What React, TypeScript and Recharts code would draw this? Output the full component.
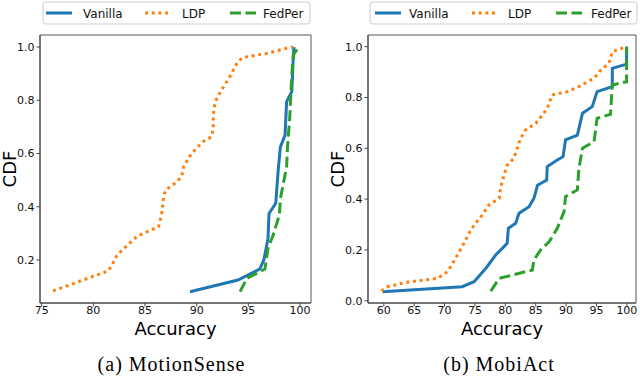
import { LineChart, Line, XAxis, YAxis, ReferenceArea } from "recharts";

// MotionSense CDF curves (accuracy, cumulative fraction)
const msVanillaAcc = [89.35, 94.0, 96.1, 96.5, 96.9, 97.0, 97.65, 97.9, 98.1, 98.55, 98.7, 99.2, 99.3, 99.4];
const msVanillaCdf = [0.081, 0.125, 0.166, 0.2, 0.281, 0.375, 0.413, 0.544, 0.625, 0.669, 0.795, 0.832, 0.92, 1.0];
const msLdpAcc = [76.1, 81.45, 81.8, 82.3, 84.2, 86.3, 86.6, 86.8, 87.0, 87.9, 88.55, 88.75, 89.5, 90.6, 91.45, 91.6, 91.6, 91.8, 92.4, 93.2, 93.9, 94.4, 96.8, 98.7, 99.35];
const msLdpCdf = [0.084, 0.159, 0.181, 0.219, 0.288, 0.325, 0.369, 0.438, 0.463, 0.488, 0.513, 0.553, 0.6, 0.644, 0.663, 0.694, 0.745, 0.795, 0.838, 0.888, 0.939, 0.96, 0.976, 0.995, 1.0];
const msFedAcc = [94.2, 94.85, 96.6, 96.9, 97.4, 98.0, 98.1, 98.7, 98.8, 99.0, 99.2, 99.35, 99.85];
const msFedCdf = [0.081, 0.131, 0.166, 0.244, 0.294, 0.369, 0.431, 0.55, 0.632, 0.732, 0.895, 0.97, 1.0];

// MobiAct CDF curves
const maVanillaAcc = [59.8, 72.9, 74.85, 76.8, 78.4, 79.5, 80.3, 80.5, 81.7, 82.25, 83.9, 84.7, 85.3, 86.8, 86.9, 88.55, 89.5, 89.9, 91.85, 92.7, 94.3, 95.1, 97.6, 97.6, 99.95, 99.95];
const maVanillaCdf = [0.035, 0.055, 0.075, 0.128, 0.18, 0.206, 0.226, 0.285, 0.305, 0.344, 0.37, 0.403, 0.455, 0.475, 0.528, 0.554, 0.567, 0.633, 0.652, 0.738, 0.764, 0.823, 0.843, 0.915, 0.931, 1.0];
const maLdpAcc = [59.6, 60.6, 63.6, 68.8, 70.5, 71.8, 73.2, 74.3, 75.1, 76.2, 77.3, 79.0, 79.2, 79.8, 80.3, 81.4, 82.5, 83.3, 85.0, 86.9, 87.7, 90.2, 92.1, 94.6, 95.7, 97.05, 97.6, 99.95];
const maLdpCdf = [0.038, 0.055, 0.072, 0.088, 0.114, 0.167, 0.226, 0.278, 0.305, 0.337, 0.377, 0.403, 0.443, 0.495, 0.534, 0.56, 0.639, 0.672, 0.698, 0.757, 0.81, 0.823, 0.843, 0.876, 0.908, 0.935, 0.98, 1.0];
const maFedAcc = [77.6, 79.0, 84.45, 84.7, 85.8, 87.2, 88.55, 89.65, 89.9, 91.85, 92.1, 92.7, 94.6, 95.1, 97.3, 97.6, 99.95, 99.95];
const maFedCdf = [0.038, 0.088, 0.121, 0.16, 0.2, 0.232, 0.285, 0.35, 0.41, 0.436, 0.521, 0.6, 0.626, 0.718, 0.734, 0.849, 0.862, 1.0];

const msXTicks = [75, 80, 85, 90, 95, 100];
const msYTicks = [0.2, 0.4, 0.6, 0.8, 1.0];
const maXTicks = [60, 65, 70, 75, 80, 85, 90, 95, 100];
const maYTicks = [0.0, 0.2, 0.4, 0.6, 0.8, 1.0];

const seriesNames = ["Vanilla", "LDP", "FedPer"];
const captions = ["(a) MotionSense", "(b) MobiAct"];

const zip = (xs: number[], ys: number[]) => xs.map((x, i) => ({ x, y: ys[i] }));

const BLUE = "#1f77b4";
const ORANGE = "#ff7f0e";
const GREEN = "#2ca02c";
const SANS = "DejaVu Sans";

const styles = [
  { stroke: BLUE, dash: undefined as string | undefined },
  { stroke: ORANGE, dash: "3 3.7" },
  { stroke: GREEN, dash: "11 4.5" },
];

type Panel = {
  left: number;
  yAxisWidth: number;
  marginRight: number;
  xDomain: [number, number];
  yDomain: [number, number];
  xTicks: number[];
  yTicks: number[];
  series: { x: number; y: number }[][];
};

function CdfPanel({ p }: { p: Panel }) {
  const tick = { fontSize: 11, fill: "#111", fontFamily: SANS };
  return (
    <div style={{ position: "absolute", left: p.left, top: 0 }}>
      <LineChart width={320} height={323} margin={{ top: 35, right: p.marginRight, left: 0, bottom: 0 }}>
        <XAxis
          type="number"
          dataKey="x"
          domain={p.xDomain}
          ticks={p.xTicks}
          allowDataOverflow
          height={20}
          tick={tick}
          tickSize={3.5}
          tickMargin={0}
          stroke="#444"
        />
        <YAxis
          type="number"
          dataKey="y"
          domain={p.yDomain}
          ticks={p.yTicks}
          allowDataOverflow
          width={p.yAxisWidth}
          tick={tick}
          tickSize={3.5}
          tickMargin={2}
          stroke="#444"
          tickFormatter={(v: number) => v.toFixed(1)}
        />
        <ReferenceArea
          x1={p.xDomain[0]}
          x2={p.xDomain[1]}
          y1={p.yDomain[0]}
          y2={p.yDomain[1]}
          fill="none"
          stroke="#555"
          strokeWidth={1}
          ifOverflow="visible"
        />
        {p.series.map((d, i) => (
          <Line
            key={seriesNames[i]}
            data={d}
            dataKey="y"
            type="linear"
            dot={false}
            activeDot={false}
            stroke={styles[i].stroke}
            strokeWidth={3}
            strokeDasharray={styles[i].dash}
            isAnimationActive={false}
          />
        ))}
      </LineChart>
    </div>
  );
}

function LegendBox({ x, w, sampleX, textX }: { x: number; w: number; sampleX: number[]; textX: number[] }) {
  return (
    <g>
      <rect x={x} y={2} width={w} height={22} rx={3} fill="#fff" stroke="#ccc" strokeWidth={1} />
      {seriesNames.map((name, i) => (
        <g key={name}>
          <line
            x1={sampleX[i]}
            x2={sampleX[i] + 26}
            y1={13}
            y2={13}
            stroke={styles[i].stroke}
            strokeWidth={3}
            strokeDasharray={styles[i].dash}
          />
          <text x={textX[i]} y={17.5} fontSize={12} fontFamily={SANS} fill="#111">
            {name}
          </text>
        </g>
      ))}
    </g>
  );
}

export default function App() {
  const left: Panel = {
    left: 0,
    yAxisWidth: 40,
    marginRight: 9,
    xDomain: [74.84, 101.06],
    yDomain: [0.0385, 1.045],
    xTicks: msXTicks,
    yTicks: msYTicks,
    series: [zip(msVanillaAcc, msVanillaCdf), zip(msLdpAcc, msLdpCdf), zip(msFedAcc, msFedCdf)],
  };
  const right: Panel = {
    left: 320,
    yAxisWidth: 48,
    marginRight: 4,
    xDomain: [57.4, 101.5],
    yDomain: [-0.009, 1.046],
    xTicks: maXTicks,
    yTicks: maYTicks,
    series: [zip(maVanillaAcc, maVanillaCdf), zip(maLdpAcc, maLdpCdf), zip(maFedAcc, maFedCdf)],
  };
  return (
    <div style={{ position: "absolute", left: 0, top: 0, width: 640, height: 376, background: "#fff", overflow: "hidden" }}>
      <CdfPanel p={left} />
      <CdfPanel p={right} />
      <svg width={640} height={376} style={{ position: "absolute", left: 0, top: 0, pointerEvents: "none" }}>
        <LegendBox x={43} w={267} sampleX={[46, 145, 230]} textX={[83, 182, 263]} />
        <LegendBox x={370} w={267} sampleX={[375, 472, 556]} textX={[409, 508, 591]} />
        <text x={175.5} y={335} textAnchor="middle" fontSize={18} fontFamily={SANS} fill="#000">Accuracy</text>
        <text x={502} y={335} textAnchor="middle" fontSize={18} fontFamily={SANS} fill="#000">Accuracy</text>
        <text transform="translate(15.5,169) rotate(-90)" textAnchor="middle" fontSize={18} fontFamily={SANS} fill="#000">CDF</text>
        <text transform="translate(343.5,169) rotate(-90)" textAnchor="middle" fontSize={18} fontFamily={SANS} fill="#000">CDF</text>
        <text x={171.5} y={371} textAnchor="middle" fontSize={20} letterSpacing={1} fontFamily="Liberation Serif" fill="#000">{captions[0]}</text>
        <text x={499} y={371} textAnchor="middle" fontSize={20} letterSpacing={1} fontFamily="Liberation Serif" fill="#000">{captions[1]}</text>
      </svg>
    </div>
  );
}
